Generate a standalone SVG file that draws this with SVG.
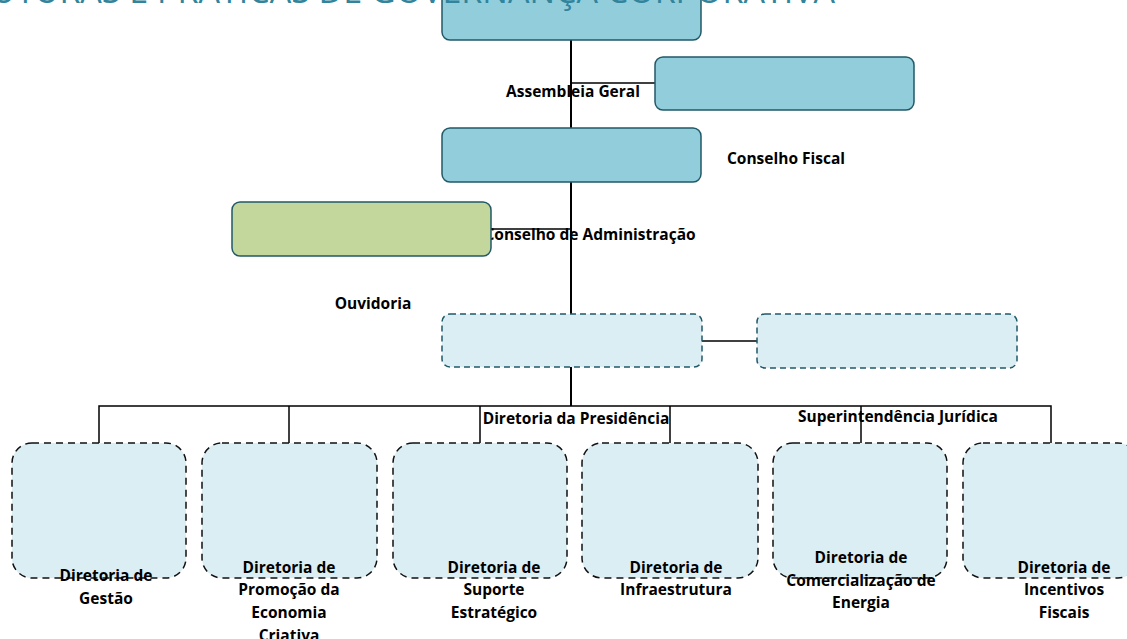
<svg xmlns="http://www.w3.org/2000/svg" width="1127" height="639" viewBox="0 0 1127 639">
<style>
.solid{fill:#92CDDC;stroke:#215968;stroke-width:1.5}
.green{fill:#C3D69B;stroke:#215968;stroke-width:1.5}
.dash1{fill:#DBEEF4;stroke:#215968;stroke-width:1.5;stroke-dasharray:6 4}
.dash2{fill:#DBEEF4;stroke:#111;stroke-width:1.5;stroke-dasharray:7 5}
.lbl{font-family:"Open Sans","Liberation Sans",sans-serif;font-weight:bold;font-size:15.5px;fill:#000}
.mid{text-anchor:middle}
.con{stroke:#000;stroke-width:1.5;fill:none}
.title{font-family:"Open Sans","Liberation Sans",sans-serif;font-size:34px;fill:#31849B}
</style>
<rect width="1127" height="639" fill="#fff"/>
<g id="connectors">
<line class="con" x1="571" y1="40" x2="571" y2="128" style="stroke-width:2"/>
<line class="con" x1="571" y1="83" x2="655" y2="83"/>
<line class="con" x1="571" y1="182" x2="571" y2="314" style="stroke-width:2"/>
<line class="con" x1="491" y1="229" x2="571" y2="229"/>
<line class="con" x1="702" y1="341" x2="757" y2="341"/>
<line class="con" x1="571" y1="367" x2="571" y2="406" style="stroke-width:2"/>
<polyline class="con" points="99,443 99,406 1051,406 1051,443"/>
<line class="con" x1="289" y1="406" x2="289" y2="443"/>
<line class="con" x1="480" y1="406" x2="480" y2="443"/>
<line class="con" x1="670" y1="406" x2="670" y2="443"/>
<line class="con" x1="861" y1="406" x2="861" y2="443"/>
</g>
<g id="assembleia-geral">
<rect class="solid" x="442" y="-20" width="259" height="60" rx="8"/>
<text class="lbl mid" x="573" y="97">Assembleia Geral</text>
</g>
<text class="title" x="835" y="2.5" text-anchor="end">ESTRUTURAS E PRÁTICAS DE GOVERNANÇA CORPORATIVA</text>
<g id="conselho-fiscal">
<rect class="solid" x="655" y="57" width="259" height="53" rx="8"/>
<text class="lbl mid" x="786" y="164">Conselho Fiscal</text>
</g>
<g id="conselho-administracao">
<rect class="solid" x="442" y="128" width="259" height="54" rx="8"/>
<text class="lbl mid" x="590" y="240">Conselho de Administração</text>
</g>
<g id="ouvidoria">
<rect class="green" x="232" y="202" width="259" height="54" rx="8"/>
<text class="lbl mid" x="373" y="309">Ouvidoria</text>
</g>
<g id="diretoria-presidencia">
<rect class="dash1" x="442" y="314" width="260" height="53" rx="8"/>
<text class="lbl mid" x="576" y="424">Diretoria da Presidência</text>
</g>
<g id="superintendencia-juridica">
<rect class="dash1" x="757" y="314" width="260" height="54" rx="8"/>
<text class="lbl mid" x="898" y="422">Superintendência Jurídica</text>
</g>
<g id="diretoria-gestao">
<rect class="dash2" x="12" y="443" width="174" height="135" rx="20"/>
<text class="lbl mid" x="106" y="581">Diretoria de</text>
<text class="lbl mid" x="106" y="604">Gestão</text>
</g>
<g id="diretoria-promocao">
<rect class="dash2" x="202" y="443" width="175" height="135" rx="20"/>
<text class="lbl mid" x="289" y="573">Diretoria de</text>
<text class="lbl mid" x="289" y="595">Promoção da</text>
<text class="lbl mid" x="289" y="618">Economia</text>
<text class="lbl mid" x="289" y="641">Criativa</text>
</g>
<g id="diretoria-suporte">
<rect class="dash2" x="393" y="443" width="174" height="135" rx="20"/>
<text class="lbl mid" x="494" y="573">Diretoria de</text>
<text class="lbl mid" x="494" y="595">Suporte</text>
<text class="lbl mid" x="494" y="618">Estratégico</text>
</g>
<g id="diretoria-infraestrutura">
<rect class="dash2" x="582" y="443" width="176" height="135" rx="20"/>
<text class="lbl mid" x="676" y="573">Diretoria de</text>
<text class="lbl mid" x="676" y="595">Infraestrutura</text>
</g>
<g id="diretoria-comercializacao">
<rect class="dash2" x="773" y="443" width="174" height="135" rx="20"/>
<text class="lbl mid" x="861" y="563">Diretoria de</text>
<text class="lbl mid" x="861" y="586">Comercialização de</text>
<text class="lbl mid" x="861" y="608">Energia</text>
</g>
<g id="diretoria-incentivos">
<rect class="dash2" x="963" y="443" width="175" height="135" rx="20"/>
<text class="lbl mid" x="1064" y="573">Diretoria de</text>
<text class="lbl mid" x="1064" y="595">Incentivos</text>
<text class="lbl mid" x="1064" y="618">Fiscais</text>
</g>
</svg>
